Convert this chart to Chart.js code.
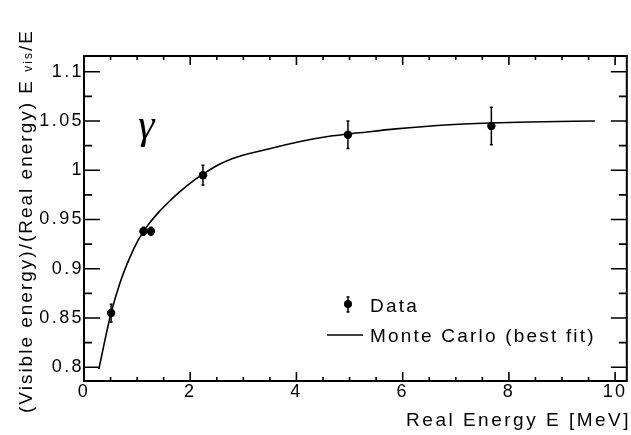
<!DOCTYPE html>
<html>
<head>
<meta charset="utf-8">
<script src="https://cdn.jsdelivr.net/npm/chart.js@4"></script>
<style>
  html, body { margin: 0; padding: 0; background: #fff; }
  #c { display: block; }
</style>
</head>
<body>
<canvas id="c" width="631" height="435"></canvas>
<script>
// Measured points: real energy [MeV], visible/real ratio, and error bar half-height
const dataEnergy = [0.51, 1.12, 1.26, 2.24, 4.97, 7.67];
const dataRatio  = [0.855, 0.938, 0.938, 0.995, 1.036, 1.045];
const dataError  = [0.009, 0.004, 0.004, 0.010, 0.014, 0.019];

// Monte Carlo best-fit curve
const fitEnergy = [0.28, 0.40, 0.51, 0.68, 0.86, 1.02, 1.20, 1.40, 1.60, 1.80, 2.05, 2.24,
                   2.55, 2.80, 3.43, 4.05, 4.68, 5.18, 5.87, 6.80, 7.64, 8.37, 9.62];
const fitRatio  = [0.798, 0.829, 0.855, 0.886, 0.911, 0.929, 0.944, 0.957, 0.968, 0.978, 0.989, 0.996,
                   1.006, 1.012, 1.021, 1.029, 1.035, 1.038, 1.042, 1.046, 1.048, 1.049, 1.050];

// Axis ticks
const xTickValues = [0, 2, 4, 6, 8, 10];
const xTickLabels = ['0', '2', '4', '6', '8', '10'];
const xMinorTicks = [0.5, 1, 1.5, 2.5, 3, 3.5, 4.5, 5, 5.5, 6.5, 7, 7.5, 8.5, 9, 9.5];
const yTickValues = [0.8, 0.85, 0.9, 0.95, 1.0, 1.05, 1.1];
const yTickLabels = ['0.8', '0.85', '0.9', '0.95', '1', '1.05', '1.1'];
const yMinorTicks = [0.825, 0.875, 0.925, 0.975, 1.025, 1.075];

const FONT = '"Liberation Sans", Arial, Helvetica, sans-serif';
const INK = '#000';

// Frame, inward tick marks, error bars, titles, legend and the gamma symbol
const decor = {
  id: 'decor',
  beforeDraw(chart) {
    chart.ctx.letterSpacing = '2.4px';
  },
  afterDatasetsDraw(chart) {
    const ctx = chart.ctx, xs = chart.scales.x, ys = chart.scales.y;
    ctx.save();
    ctx.strokeStyle = INK;
    ctx.lineWidth = 1.5;
    for (let i = 0; i < dataEnergy.length; i++) {
      const px = xs.getPixelForValue(dataEnergy[i]);
      const top = ys.getPixelForValue(dataRatio[i] + dataError[i]);
      const bot = ys.getPixelForValue(dataRatio[i] - dataError[i]);
      ctx.beginPath();
      ctx.moveTo(px, top); ctx.lineTo(px, bot);
      ctx.moveTo(px - 1.5, top); ctx.lineTo(px + 1.5, top);
      ctx.moveTo(px - 1.5, bot); ctx.lineTo(px + 1.5, bot);
      ctx.stroke();
    }
    ctx.restore();
  },
  afterDraw(chart) {
    const ctx = chart.ctx, xs = chart.scales.x, ys = chart.scales.y;
    const a = chart.chartArea;
    ctx.save();
    ctx.strokeStyle = INK;
    ctx.fillStyle = INK;

    // frame
    ctx.lineWidth = 2;
    ctx.strokeRect(a.left, a.top, a.right - a.left, a.bottom - a.top);

    // tick marks pointing into the plot
    ctx.lineWidth = 1.6;
    ctx.beginPath();
    const yTick = (v, len) => {
      const py = ys.getPixelForValue(v);
      ctx.moveTo(a.left, py); ctx.lineTo(a.left + len, py);
      ctx.moveTo(a.right, py); ctx.lineTo(a.right - len, py);
    };
    const xTick = (v, len) => {
      const px = xs.getPixelForValue(v);
      ctx.moveTo(px, a.bottom); ctx.lineTo(px, a.bottom - len);
      ctx.moveTo(px, a.top); ctx.lineTo(px, a.top + len);
    };
    yTickValues.forEach(v => yTick(v, 16));
    yMinorTicks.forEach(v => yTick(v, 8));
    xTickValues.forEach(v => xTick(v, 9));
    xMinorTicks.forEach(v => xTick(v, 4));
    ctx.stroke();

    // x axis title
    ctx.textBaseline = 'alphabetic';
    ctx.textAlign = 'right';
    ctx.letterSpacing = '2.5px';
    ctx.font = '19px ' + FONT;
    ctx.fillText('Real Energy E [MeV]', 631, 426);

    // y axis title, read bottom to top, with a smaller "vis"
    ctx.save();
    ctx.translate(32, 413);
    ctx.rotate(-Math.PI / 2);
    ctx.textAlign = 'left';
    ctx.letterSpacing = '2.0px';
    let cx = 0;
    const seg = (txt, size) => {
      ctx.font = size + 'px ' + FONT;
      ctx.fillText(txt, cx, 0);
      cx += ctx.measureText(txt).width;
    };
    seg('(Visible energy)/(Real energy) E ', 19);
    seg('vis', 12);
    seg('/E', 19);
    ctx.restore();

    // legend
    ctx.letterSpacing = '2.2px';
    ctx.font = '19px ' + FONT;
    ctx.textAlign = 'left';
    ctx.textBaseline = 'alphabetic';
    ctx.fillText('Data', 370, 312);
    ctx.fillText('Monte Carlo (best fit)', 370, 342);
    ctx.lineWidth = 1.5;
    ctx.beginPath();
    ctx.moveTo(348, 297); ctx.lineTo(348, 312);
    ctx.moveTo(346.5, 297); ctx.lineTo(349.5, 297);
    ctx.moveTo(346.5, 312); ctx.lineTo(349.5, 312);
    ctx.moveTo(327, 335); ctx.lineTo(363, 335);
    ctx.stroke();
    ctx.beginPath();
    ctx.arc(348, 304, 4, 0, Math.PI * 2);
    ctx.fill();

    // particle symbol
    ctx.letterSpacing = '0px';
    ctx.font = 'italic 42px "Liberation Serif", "Times New Roman", serif';
    ctx.fillText('\u03B3', 138, 138);

    ctx.restore();
    ctx.letterSpacing = '0px';
  }
};

new Chart(document.getElementById('c'), {
  data: {
    datasets: [
      {
        type: 'line',
        label: 'Monte Carlo (best fit)',
        data: fitEnergy.map((e, i) => ({ x: e, y: fitRatio[i] })),
        borderColor: INK,
        borderWidth: 1.6,
        pointRadius: 0,
        fill: false,
        cubicInterpolationMode: 'monotone'
      },
      {
        type: 'scatter',
        label: 'Data',
        data: dataEnergy.map((e, i) => ({ x: e, y: dataRatio[i] })),
        pointRadius: 4.2,
        pointHoverRadius: 4.2,
        backgroundColor: INK,
        borderColor: INK,
        borderWidth: 0
      }
    ]
  },
  options: {
    responsive: false,
    animation: false,
    devicePixelRatio: 1,
    layout: { padding: { top: 56, right: 2, left: 0, bottom: 0 } },
    plugins: { legend: { display: false }, tooltip: { enabled: false } },
    scales: {
      x: {
        type: 'linear',
        min: 0,
        max: 10.22,
        grid: { display: false, drawTicks: false },
        border: { display: false },
        afterBuildTicks(s) { s.ticks = xTickValues.map(v => ({ value: v })); },
        ticks: {
          callback: (v, i) => xTickLabels[i],
          color: INK,
          font: { family: FONT, size: 18 },
          padding: 0,
          maxRotation: 0,
          autoSkip: false
        },
        afterFit(s) { s.height = 54; s.paddingLeft = 0; s.paddingRight = 0; }
      },
      y: {
        type: 'linear',
        min: 0.786,
        max: 1.116,
        grid: { display: false, drawTicks: false },
        border: { display: false },
        afterBuildTicks(s) { s.ticks = yTickValues.map(v => ({ value: v })); },
        ticks: {
          callback: (v, i) => yTickLabels[i],
          color: INK,
          font: { family: FONT, size: 18 },
          padding: 0,
          autoSkip: false
        },
        afterFit(s) { s.width = 84; s.paddingTop = 0; s.paddingBottom = 0; }
      }
    }
  },
  plugins: [decor]
});
</script>
</body>
</html>
